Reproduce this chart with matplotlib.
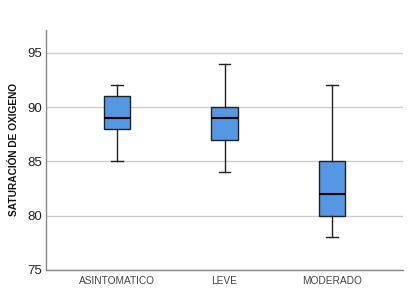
import matplotlib
matplotlib.use("Agg")
import matplotlib.pyplot as plt

categories = ["ASINTOMATICO", "LEVE", "MODERADO"]
whislo = [85, 84, 78]
q1 = [88, 87, 80]
med = [89, 89, 82]
q3 = [91, 90, 85]
whishi = [92, 94, 92]
yticks = [75, 80, 85, 90, 95]

plt.rcParams['font.family'] = ['Liberation Sans', 'DejaVu Sans']

fig = plt.figure(figsize=(4.09, 2.94), dpi=100)
ax = fig.add_axes([46/409, 1 - 270/294, (403-46)/409, (270-30)/294])

stats = []
for i, c in enumerate(categories):
    stats.append(dict(label=c, whislo=whislo[i], q1=q1[i], med=med[i], q3=q3[i], whishi=whishi[i], fliers=[]))

ax.yaxis.grid(True, color='#cccccc', linewidth=1.0, zorder=0)
ax.set_axisbelow(True)
ax.bxp(stats, positions=range(len(categories)), widths=0.25, capwidths=0.11, patch_artist=True,
       boxprops=dict(facecolor='#5597e3', edgecolor='#222222', linewidth=1.0),
       medianprops=dict(color='black', linewidth=1.5),
       whiskerprops=dict(color='#222222', linewidth=1.0),
       capprops=dict(color='#222222', linewidth=1.0),
       showfliers=False)

ax.set_xlim(-0.66, 2.66)
ax.set_ylim(75, 97.1)
ax.set_yticks(yticks)
ax.set_yticklabels([str(t) for t in yticks], fontsize=9.5, color='#222222')
ax.set_xticks(range(len(categories)))
ax.set_xticklabels(categories, fontsize=7.3, color='#444444')
ax.tick_params(axis='both', length=0)
ax.tick_params(axis='x', pad=4)
ax.tick_params(axis='y', pad=2.5)

for s in ['top', 'right']:
    ax.spines[s].set_visible(False)
for s in ['left', 'bottom']:
    ax.spines[s].set_color('#888888')
    ax.spines[s].set_linewidth(1.0)

ax.set_ylabel("SATURACIÓN DE OXIGENO", fontsize=7.3, fontweight='bold', color='#111111', labelpad=6)

fig.savefig("out.png", dpi=100)
